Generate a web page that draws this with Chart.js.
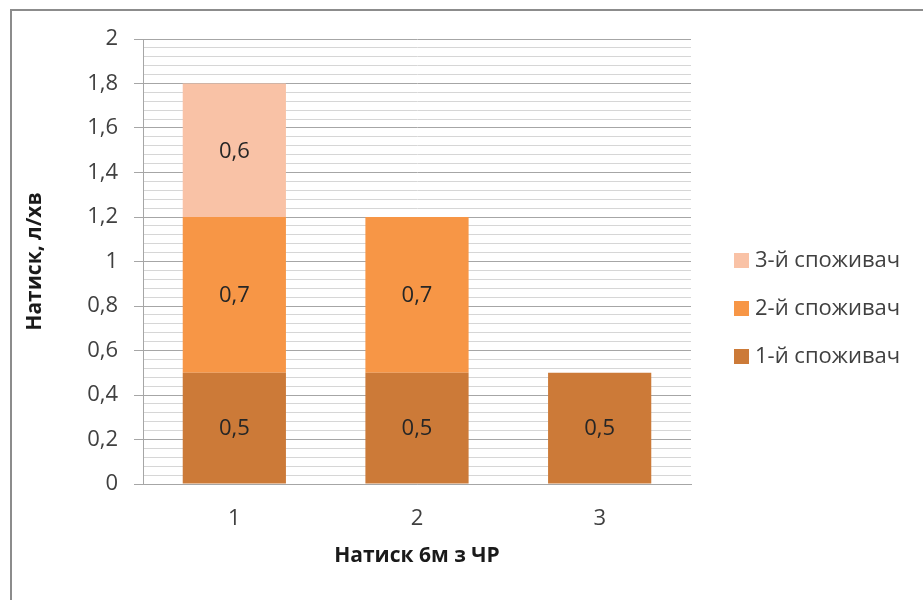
<!DOCTYPE html>
<html>
<head>
<meta charset="utf-8">
<script src="https://cdn.jsdelivr.net/npm/chart.js@4"></script>
<style>
  html, body { margin: 0; padding: 0; background: #fff; overflow: hidden; }
  #wrap { position: relative; width: 923px; height: 600px; }
</style>
</head>
<body>
<div id="wrap"><canvas id="chart" width="923" height="600"></canvas></div>
<script>
// ====== DATA ======
const CATEGORIES   = ['1', '2', '3'];
const SERIES_NAMES = ['1-й споживач', '2-й споживач', '3-й споживач'];
const CONSUMER_1   = [0.5, 0.5, 0.5];
const CONSUMER_2   = [0.7, 0.7, 0];
const CONSUMER_3   = [0.6, 0, 0];
const Y_MIN = 0, Y_MAX = 2, Y_MINOR = 0.04, Y_MAJOR = 0.2;

// ====== STYLE ======
const COLORS = ['#CC7A38', '#F79646', '#F9C2A6'];
const FONT = '"Open Sans", Lato, sans-serif';
const FS = 22;
const TEXT = '#404040';

// ====== UTILS ======
const fmt = v => String(+v.toFixed(2)).replace('.', ',');
const isMajor = v => Math.abs(v / Y_MAJOR - Math.round(v / Y_MAJOR)) < 1e-6;

// outer frame (only left and top edges are inside the canvas)
const framePlugin = {
  id: 'frame',
  beforeDraw(chart){
    const c = chart.ctx;
    c.save();
    c.strokeStyle = '#8C8C8C'; c.lineWidth = 2;
    c.beginPath(); c.moveTo(11, 700); c.lineTo(11, 10); c.lineTo(1000, 10); c.stroke();
    c.restore();
  }
};

// value in the middle of each segment
const segLabels = {
  id: 'segLabels',
  afterDatasetsDraw(chart){
    const c = chart.ctx;
    c.save();
    c.font = FS + 'px ' + FONT; c.fillStyle = '#262626';
    c.textAlign = 'center'; c.textBaseline = 'middle';
    chart.data.datasets.forEach((ds, i) => {
      chart.getDatasetMeta(i).data.forEach((bar, j) => {
        const v = ds.data[j];
        if (!v) return;
        c.fillText(fmt(v), bar.x, (bar.y + bar.base) / 2 + 1);
      });
    });
    c.restore();
  }
};

// legend on the right, top series first
const sideLegend = {
  id: 'sideLegend',
  afterDraw(chart){
    const c = chart.ctx;
    const rows = [261, 309, 357];
    c.save();
    c.font = FS + 'px ' + FONT; c.textBaseline = 'middle'; c.textAlign = 'left';
    const n = chart.data.datasets.length;
    for (let k = 0; k < n; k++){
      const ds = chart.data.datasets[n - 1 - k];
      const y = rows[k];
      c.fillStyle = ds.backgroundColor;
      c.fillRect(734, y - 8, 15, 15);
      c.fillStyle = TEXT;
      c.fillText(ds.label, 755, y);
    }
    c.restore();
  }
};

// ====== CHART ======
const seriesData = [CONSUMER_1, CONSUMER_2, CONSUMER_3];
new Chart(document.getElementById('chart').getContext('2d'), {
  type: 'bar',
  data: {
    labels: CATEGORIES,
    datasets: SERIES_NAMES.map((name, i) => ({
      label: name,
      data: seriesData[i],
      backgroundColor: COLORS[i],
      borderWidth: 0,
      barPercentage: 0.565,
      categoryPercentage: 1
    }))
  },
  options: {
    responsive: false,
    animation: false,
    devicePixelRatio: 1,
    layout: { padding: { left: 0, top: 39, right: 232, bottom: 0 } },
    plugins: { legend: { display: false }, tooltip: { enabled: false } },
    scales: {
      x: {
        stacked: true,
        grid: { display: false, drawTicks: false },
        border: { display: true, color: '#A6A6A6' },
        ticks: { color: TEXT, font: { family: FONT, size: FS }, padding: 22 },
        title: { display: true, text: 'Натиск 6м з ЧР', color: '#1a1a1a',
                 font: { family: FONT, size: 21, weight: 'bold' }, padding: { top: 0, bottom: 31 } },
        afterFit(s){ s.height = 116; }
      },
      y: {
        stacked: true,
        min: Y_MIN, max: Y_MAX,
        grid: {
          color: ctx => isMajor(ctx.tick.value) ? '#A6A6A6' : '#D6D6D6',
          tickColor: ctx => isMajor(ctx.tick.value) ? '#A6A6A6' : 'rgba(0,0,0,0)',
          tickLength: 9
        },
        border: { display: true, color: '#A6A6A6' },
        ticks: {
          stepSize: Y_MINOR, autoSkip: false, color: TEXT, padding: 16,
          font: { family: FONT, size: FS },
          callback: v => isMajor(v) ? fmt(v) : ''
        },
        title: { display: true, text: 'Натиск, л/хв', color: '#1a1a1a',
                 font: { family: FONT, size: 21, weight: 'bold' }, padding: { top: 22, bottom: 0 } },
        afterFit(s){ s.width = 143; }
      }
    }
  },
  plugins: [framePlugin, segLabels, sideLegend]
});
</script>
</body>
</html>
